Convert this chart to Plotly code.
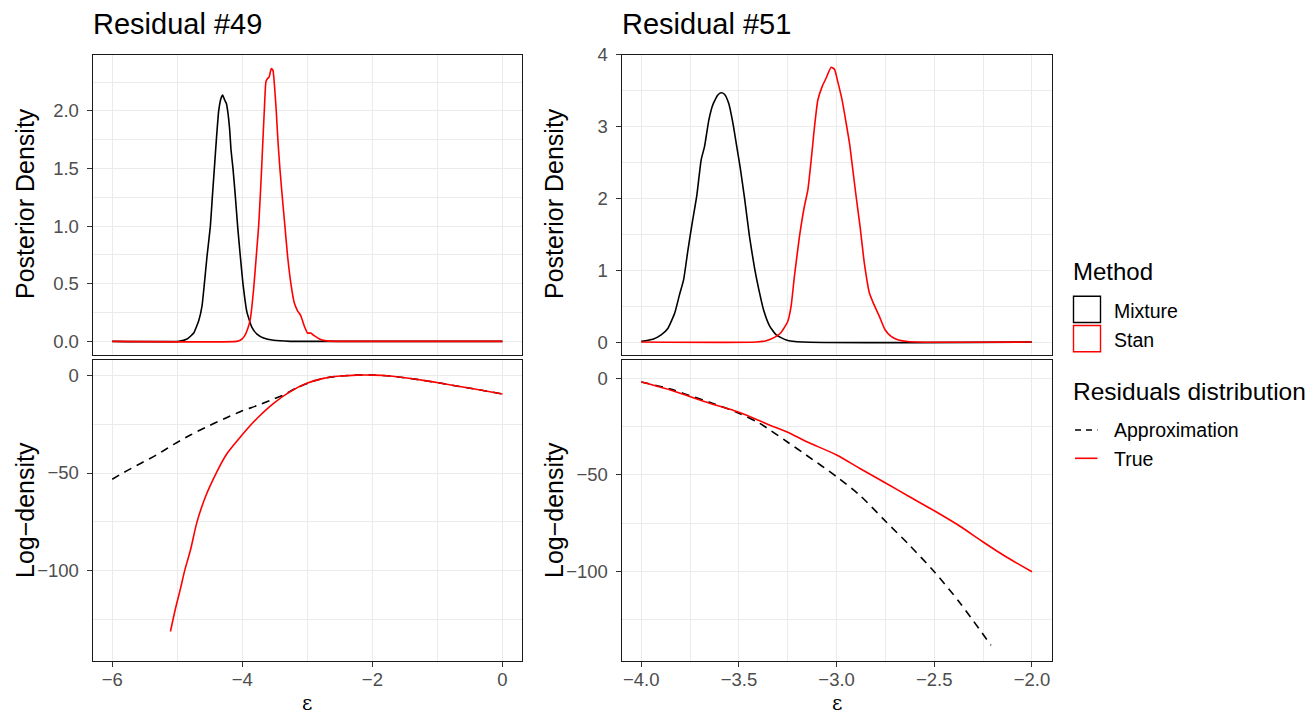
import plotly.graph_objects as go

W, H = 1312, 712

# ---------------- data ----------------
# Residual #49, posterior density
r49_mix_x = [-6.0, -4.977, -4.849, -4.747, -4.670, -4.619, -4.583, -4.542, -4.491, -4.460, -4.430, -4.399,
             -4.363, -4.327, -4.302, -4.271, -4.246, -4.225, -4.194, -4.174, -4.143, -4.107, -4.072, -4.031,
             -3.990, -3.928, -3.852, -3.775, -3.673, -3.519, -3.263, 0.0]
r49_mix_y = [0, 0, 0.020, 0.072, 0.179, 0.308, 0.501, 0.741, 1.000, 1.259, 1.499, 1.749,
             2.000, 2.110, 2.138, 2.095, 2.066, 2.000, 1.836, 1.663, 1.499, 1.259, 1.000, 0.741,
             0.501, 0.251, 0.121, 0.063, 0.029, 0.009, 0, 0]
r49_stan_x = [-6.0, -4.082, -4.020, -3.969, -3.918, -3.877, -3.826, -3.785, -3.749, -3.724, -3.703, -3.683,
              -3.662, -3.637, -3.611, -3.586, -3.555, -3.529, -3.504, -3.478, -3.453, -3.422, -3.386, -3.345,
              -3.304, -3.253, -3.202, -3.151, -3.100, -3.049, -2.997, -2.946, -2.895, -2.813, -2.726, -2.547, 0.0]
r49_stan_y = [0, 0, 0.014, 0.043, 0.107, 0.193, 0.452, 0.741, 1.000, 1.259, 1.499, 1.749,
              2.000, 2.254, 2.282, 2.297, 2.369, 2.354, 2.210, 2.000, 1.749, 1.499, 1.259, 1.000,
              0.741, 0.501, 0.337, 0.265, 0.222, 0.135, 0.072, 0.072, 0.049, 0.020, 0.006, 0, 0]

# Residual #51, posterior density
r51_mix_x = [-4.0, -3.940, -3.898, -3.864, -3.829, -3.804, -3.783, -3.761, -3.739, -3.716, -3.693, -3.676,
             -3.654, -3.634, -3.608, -3.591, -3.574, -3.552, -3.531, -3.511, -3.494, -3.471, -3.446, -3.420,
             -3.398, -3.374, -3.344, -3.309, -3.258, -3.173, -2.0]
r51_mix_y = [0.01, 0.04, 0.10, 0.19, 0.40, 0.66, 0.87, 1.28, 1.66, 2.03, 2.54, 2.72,
             3.09, 3.30, 3.44, 3.47, 3.45, 3.32, 3.05, 2.72, 2.44, 2.00, 1.47, 1.03,
             0.73, 0.45, 0.23, 0.10, 0.03, 0, 0]
r51_stan_x = [-4.0, -3.412, -3.361, -3.318, -3.284, -3.250, -3.233, -3.216, -3.190, -3.165, -3.147, -3.130,
              -3.113, -3.096, -3.074, -3.054, -3.028, -3.011, -2.994, -2.972, -2.951, -2.934, -2.917, -2.900,
              -2.880, -2.858, -2.832, -2.812, -2.781, -2.752, -2.721, -2.687, -2.627, -2.0]
r51_stan_y = [0, 0, 0.019, 0.065, 0.134, 0.287, 0.496, 0.914, 1.470, 1.887, 2.119, 2.536,
              3.000, 3.370, 3.556, 3.672, 3.825, 3.797, 3.625, 3.370, 3.046, 2.768, 2.397, 2.026,
              1.609, 1.099, 0.682, 0.542, 0.357, 0.172, 0.079, 0.032, 0.005, 0]

# Residual #49, log-density
r49_approx_x = [-6.0, -5.82, -5.565, -5.31, -5.054, -4.798, -4.542, -4.286, -4.031, -3.775, -3.519, -3.366,
                -3.161, -2.957, -2.752, -2.496, -2.240, -1.985, -1.729, -1.473, -1.217, -0.962, -0.706, -0.450, 0.0]
r49_approx_y = [-53.2, -49.7, -45.1, -40.5, -35.3, -30.5, -26.2, -22.3, -18.5, -15.4, -12.0, -9.9,
                -6.2, -3.4, -1.4, -0.2, 0.3, 0.3, -0.2, -1.2, -2.4, -3.8, -5.3, -6.7, -9.4]
r49_true_x = [-5.105, -5.028, -4.951, -4.885, -4.798, -4.696, -4.568, -4.399, -4.235, -4.005, -3.775, -3.519,
              -3.263, -3.008, -2.752, -2.496, -2.240, -1.985, -1.729, -1.473, -1.217, -0.962, -0.706, -0.450, 0.0]
r49_true_y = [-131.4, -119.7, -109.4, -100.0, -89.7, -75.1, -62.3, -49.9, -40.0, -30.5, -22.0, -14.2,
              -8.2, -3.9, -1.4, -0.2, 0.3, 0.3, -0.2, -1.2, -2.4, -3.8, -5.3, -6.7, -9.4]

# Residual #51, log-density
r51_approx_x = [-4.0, -3.855, -3.753, -3.650, -3.500, -3.395, -3.250, -3.156, -3.0, -2.883, -2.747, -2.627,
                -2.500, -2.372, -2.210]
r51_approx_y = [-1.7, -5.2, -8.7, -12.2, -17.9, -23.1, -33.0, -39.6, -50.9, -60.4, -74.3, -86.5,
                -100.3, -116.0, -138.5]
r51_true_x = [-4.0, -3.855, -3.753, -3.650, -3.500, -3.344, -3.250, -3.156, -3.0, -2.883, -2.747, -2.627,
              -2.500, -2.372, -2.252, -2.133, -2.0]
r51_true_y = [-1.7, -5.7, -9.2, -12.7, -17.4, -24.0, -27.8, -32.6, -39.6, -46.5, -54.3, -61.3,
              -68.6, -76.4, -84.7, -92.5, -100.3]

panel_titles = ["Residual #49", "Residual #51"]
method_names = ["Mixture", "Stan"]
resid_names = ["Approximation", "True"]

left_xticks = [-6, -4, -2, 0]
left_xminor = [-5, -3, -1]
right_xticks = [-4.0, -3.5, -3.0, -2.5, -2.0]
right_xminor = [-3.75, -3.25, -2.75, -2.25]
tl_yticks = [0.0, 0.5, 1.0, 1.5, 2.0]
tl_yminor = [0.25, 0.75, 1.25, 1.75, 2.25]
tr_yticks = [0, 1, 2, 3, 4]
tr_yminor = [0.5, 1.5, 2.5, 3.5]
b_yticks = [0, -50, -100]
b_yminor = [-25, -75, -125]

# ---------------- style ----------------
FONT = "Liberation Sans, Arial, Helvetica, sans-serif"
TICKFONT = dict(family=FONT, size=18.5, color="#4D4D4D")
GRID = "#EBEBEB"
BLACK = "#000000"
RED = "#FF0000"
LW = 1.6


def px_x(p):
    return p / W


def px_y(p):
    return 1 - p / H


LX = [px_x(92.7), px_x(522.0)]
RX = [px_x(621.7), px_x(1051.5)]
TY = [px_y(355.0), px_y(54.7)]
BY = [px_y(660.5), px_y(359.7)]

fig = go.Figure()

def line(x, y, color, xa, ya, dash=None, smooth=0.5):
    fig.add_trace(go.Scatter(x=x, y=y, mode="lines", xaxis=xa, yaxis=ya, showlegend=False,
                             line=dict(color=color, width=LW, dash=dash, shape="spline", smoothing=smooth),
                             hoverinfo="skip"))

line(r49_mix_x, r49_mix_y, BLACK, "x", "y", smooth=0.4)
line(r49_stan_x, r49_stan_y, RED, "x", "y", smooth=0.4)
line(r49_approx_x, r49_approx_y, BLACK, "x2", "y2", dash="8px,6px", smooth=0.8)
line(r49_true_x, r49_true_y, RED, "x2", "y2", smooth=0.8)
line(r51_mix_x, r51_mix_y, BLACK, "x3", "y3", smooth=0.5)
line(r51_stan_x, r51_stan_y, RED, "x3", "y3", smooth=0.5)
line(r51_approx_x, r51_approx_y, BLACK, "x4", "y4", dash="8px,6px", smooth=0.8)
line(r51_true_x, r51_true_y, RED, "x4", "y4", smooth=0.8)


def axis(domain, rng, ticks, minor, anchor, show_labels, ticktext=None, standoff=4):
    d = dict(domain=domain, range=rng, anchor=anchor, showgrid=True, gridcolor=GRID, gridwidth=1.3,
             zeroline=False, showline=True, linecolor="#1A1A1A", linewidth=1.3, mirror=True,
             tickmode="array", tickvals=ticks, tickfont=TICKFONT,
             minor=dict(tickmode="array", tickvals=minor, showgrid=True, gridcolor=GRID, gridwidth=0.7, ticks=""),
             fixedrange=True, automargin=False)
    if show_labels:
        d.update(ticks="outside", ticklen=5, tickwidth=1.2, tickcolor="#333333", showticklabels=True,
                 ticklabelstandoff=standoff)
        if ticktext is not None:
            d["ticktext"] = ticktext
    else:
        d.update(ticks="", showticklabels=False)
    return d


fig.update_layout(
    width=W, height=H, margin=dict(l=0, r=0, t=0, b=0),
    paper_bgcolor="white", plot_bgcolor="white", showlegend=False,
    xaxis=axis(LX, [-6.3, 0.3], left_xticks, left_xminor, "y", False),
    yaxis=axis(TY, [-0.1185, 2.4885], tl_yticks, tl_yminor, "x", True,
               ticktext=[f"{v:.1f}" for v in tl_yticks]),
    xaxis2=axis(LX, [-6.3, 0.3], left_xticks, left_xminor, "y2", True, standoff=-3),
    yaxis2=axis(BY, [-146.3, 8.2], b_yticks, b_yminor, "x2", True),
    xaxis3=axis(RX, [-4.1, -1.9], right_xticks, right_xminor, "y3", False),
    yaxis3=axis(TY, [-0.18, 4.0], tr_yticks, tr_yminor, "x3", True),
    xaxis4=axis(RX, [-4.1, -1.9], right_xticks, right_xminor, "y4", True, standoff=-3,
                ticktext=[f"{v:.1f}".replace("-", "\u2212") for v in right_xticks]),
    yaxis4=axis(BY, [-146.4, 9.9], b_yticks, b_yminor, "x4", True),
)

ann = []
def text(x, y, s, size, xanchor="left", yanchor="middle", angle=0, family=FONT, color="#000000"):
    ann.append(dict(x=px_x(x), y=px_y(y), xref="paper", yref="paper", text=s, showarrow=False,
                    xanchor=xanchor, yanchor=yanchor, textangle=angle,
                    font=dict(family=family, size=size, color=color)))

# panel titles
text(91, 24, panel_titles[0], 29)
text(620, 24, panel_titles[1], 29)
# y-axis titles
for xc in (25, 554):
    text(xc, 204, "Posterior Density", 25, xanchor="center", angle=-90)
    text(xc, 510, "Log\u2212density", 25, xanchor="center", angle=-90)
# x-axis titles
SERIF = "DejaVu Serif, Liberation Serif, serif"
text(307, 703, "\u03b5", 20, xanchor="center", family=SERIF)
text(836.6, 703, "\u03b5", 20, xanchor="center", family=SERIF)

# legend (drawn manually)
text(1071, 271, "Method", 24)
text(1112, 310.5, method_names[0], 19.5)
text(1112, 339.5, method_names[1], 19.5)
text(1071, 391, "Residuals distribution", 24.5)
text(1112, 430, resid_names[0], 19.5)
text(1112, 458.5, resid_names[1], 19.5)
fig.update_layout(annotations=ann)

shapes = [
    dict(type="rect", xref="paper", yref="paper", x0=px_x(1073.5), x1=px_x(1100.5), y0=px_y(322.5), y1=px_y(296.2),
         line=dict(color=BLACK, width=1.4), fillcolor="rgba(0,0,0,0)"),
    dict(type="rect", xref="paper", yref="paper", x0=px_x(1073.5), x1=px_x(1100.5), y0=px_y(351.8), y1=px_y(325.5),
         line=dict(color=RED, width=1.4), fillcolor="rgba(0,0,0,0)"),
    dict(type="line", xref="paper", yref="paper", x0=px_x(1075), x1=px_x(1097.5), y0=px_y(430), y1=px_y(430),
         line=dict(color=BLACK, width=LW, dash="6px,5px")),
    dict(type="line", xref="paper", yref="paper", x0=px_x(1075), x1=px_x(1097.5), y0=px_y(458.3), y1=px_y(458.3),
         line=dict(color=RED, width=LW)),
]
fig.update_layout(shapes=shapes)

fig.write_html("out.html", config={"displayModeBar": False},
               post_script="document.body.style.margin='0';document.body.style.overflow='hidden';")
